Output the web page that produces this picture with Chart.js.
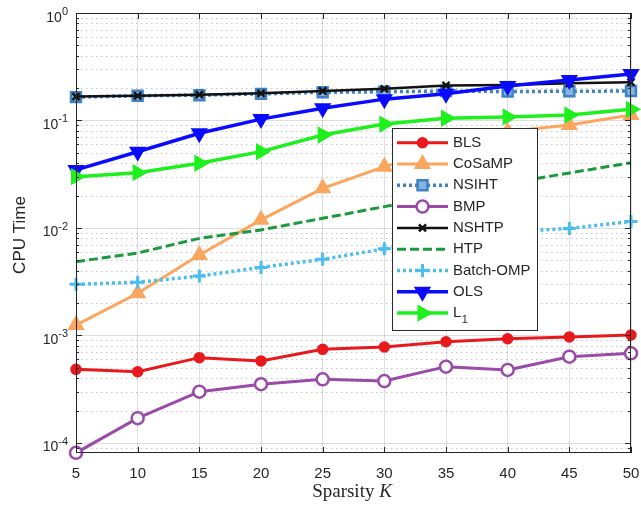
<!DOCTYPE html>
<html>
<head>
<meta charset="utf-8">
<script src="https://cdn.jsdelivr.net/npm/chart.js@4/dist/chart.umd.min.js"></script>
<style>
  html, body { margin: 0; padding: 0; background: #fff; }
  canvas { display: block; }
</style>
</head>
<body>
<canvas id="chart" width="641" height="506"></canvas>
<script>
// Sparsity levels and measured CPU times (seconds) per algorithm
const sparsity = [5, 10, 15, 20, 25, 30, 35, 40, 45, 50];
const bls      = [4.84e-4, 4.6e-4, 6.22e-4, 5.8e-4, 7.43e-4, 7.82e-4, 8.75e-4, 9.33e-4, 9.7e-4, 1.01e-3];
const cosamp   = [1.25e-3, 2.47e-3, 5.6e-3, 1.19e-2, 2.34e-2, 3.72e-2, 5.5e-2, 7.9e-2, 9.1e-2, 0.1125];
const nsiht    = [0.165, 0.170, 0.172, 0.177, 0.183, 0.185, 0.188, 0.186, 0.187, 0.188];
const bmp      = [8.1e-5, 1.7e-4, 3.0e-4, 3.52e-4, 3.91e-4, 3.77e-4, 5.13e-4, 4.78e-4, 6.35e-4, 6.83e-4];
const nshtp    = [0.167, 0.170, 0.174, 0.179, 0.188, 0.197, 0.212, 0.214, 0.222, 0.227];
const htp      = [4.86e-3, 5.85e-3, 8.0e-3, 9.6e-3, 1.23e-2, 1.58e-2, 2.05e-2, 2.6e-2, 3.25e-2, 4.05e-2];
const batchOmp = [2.99e-3, 3.13e-3, 3.57e-3, 4.3e-3, 5.11e-3, 6.4e-3, 7.8e-3, 9.2e-3, 9.9e-3, 1.15e-2];
const ols      = [0.0347, 0.0512, 0.076, 0.103, 0.130, 0.158, 0.177, 0.209, 0.238, 0.271];
const l1       = [0.030, 0.0327, 0.040, 0.0513, 0.0733, 0.0927, 0.105, 0.108, 0.1125, 0.127];

const seriesNames = ['BLS', 'CoSaMP', 'NSIHT', 'BMP', 'NSHTP', 'HTP', 'Batch-OMP', 'OLS', 'L1'];
const seriesValues = [bls, cosamp, nsiht, bmp, nshtp, htp, batchOmp, ols, l1];

// Axis ticks
const xTicks = [5, 10, 15, 20, 25, 30, 35, 40, 45, 50];
const yDecades = [-4, -3, -2, -1, 0];
const yMin = 8.07e-5, yMax = 1;

// Line / marker styles per series
const styles = [
  { color: '#e8191c', width: 3,   dash: [],     point: 'circle',   radius: 5,   pw: 1.5, fill: '#e8191c', rot: 0 },
  { color: '#fba65f', width: 3,   dash: [],     point: 'triangle', radius: 8.5, pw: 1.5, fill: '#fba65f', rot: 0 },
  { color: '#3f82c4', width: 3.5, dash: [3, 3], point: 'rect',     radius: 7,   pw: 2.5, fill: '#86b2de', rot: 0 },
  { color: '#9a4aa8', width: 3,   dash: [],     point: 'circle',   radius: 6,   pw: 2.5, fill: '#ffffff', rot: 0 },
  { color: '#111111', width: 2.5, dash: [],     point: 'crossRot', radius: 5,   pw: 2.5, fill: '#111111', rot: 0 },
  { color: '#1a9a3c', width: 3,   dash: [9, 4], point: false,      radius: 0,   pw: 0,   fill: '#1a9a3c', rot: 0 },
  { color: '#4bbdee', width: 3.5, dash: [3, 3], point: 'cross',    radius: 6.5, pw: 3,   fill: '#4bbdee', rot: 0 },
  { color: '#0a0aff', width: 3.5, dash: [],     point: 'triangle', radius: 8.5, pw: 1.5, fill: '#0a0aff', rot: 180 },
  { color: '#1ef01e', width: 3.5, dash: [],     point: 'triangle', radius: 8.5, pw: 1.5, fill: '#1ef01e', rot: 90 }
];

const TEXT = '#262626';
const SANS = '"Liberation Sans", Arial, sans-serif';
const SERIF = '"Liberation Serif", "DejaVu Serif", serif';

const datasets = seriesNames.map((name, i) => {
  const s = styles[i];
  return {
    label: name,
    data: sparsity.map((k, j) => ({ x: k, y: seriesValues[i][j] })),
    borderColor: s.color,
    borderWidth: s.width,
    borderDash: s.dash,
    backgroundColor: s.fill,
    pointStyle: s.point,
    pointRadius: s.radius,
    pointBorderWidth: s.pw,
    pointBorderColor: s.color,
    pointBackgroundColor: s.fill,
    pointRotation: s.rot,
    tension: 0,
    fill: false,
    clip: false,
    order: seriesNames.length - i
  };
});

// Minor dotted grid, box, tick marks, tick labels, titles and legend
const decorations = {
  id: 'decorations',
  beforeDatasetsDraw(chart) {
    const { ctx, chartArea: a, scales: { y } } = chart;
    ctx.save();
    ctx.lineWidth = 1;
    for (let e = -5; e <= 0; e++) {
      for (let m = 1; m <= 9; m++) {
        const v = m * Math.pow(10, e);
        if (v < yMin || v > yMax) continue;
        const py = Math.round(y.getPixelForValue(v)) + 0.5;
        ctx.beginPath();
        if (m === 1) {
          ctx.setLineDash([]);
          ctx.strokeStyle = 'rgba(0,0,0,0.13)';
        } else {
          ctx.setLineDash([1.5, 3.5]);
          ctx.strokeStyle = 'rgba(0,0,0,0.22)';
        }
        ctx.moveTo(a.left, py);
        ctx.lineTo(a.right, py);
        ctx.stroke();
      }
    }
    ctx.restore();
  },
  afterDatasetsDraw(chart) {
    const { ctx, chartArea: a, scales: { x, y } } = chart;
    ctx.save();
    ctx.setLineDash([]);

    // axes box
    ctx.strokeStyle = TEXT;
    ctx.lineWidth = 1;
    ctx.strokeRect(a.left + 0.5, a.top + 0.5, a.right - a.left - 1, a.bottom - a.top - 1);

    // x tick marks (inside, bottom and top)
    ctx.beginPath();
    xTicks.forEach(k => {
      const px = Math.round(x.getPixelForValue(k)) + 0.5;
      ctx.moveTo(px, a.bottom); ctx.lineTo(px, a.bottom - 6);
      ctx.moveTo(px, a.top); ctx.lineTo(px, a.top + 6);
    });
    // y tick marks (major and minor, inside, left and right)
    for (let e = -5; e <= 0; e++) {
      for (let m = 1; m <= 9; m++) {
        const v = m * Math.pow(10, e);
        if (v < yMin || v > yMax) continue;
        const py = Math.round(y.getPixelForValue(v)) + 0.5;
        const len = m === 1 ? 6 : 3;
        ctx.moveTo(a.left, py); ctx.lineTo(a.left + len, py);
        ctx.moveTo(a.right, py); ctx.lineTo(a.right - len, py);
      }
    }
    ctx.stroke();

    // x tick labels
    ctx.fillStyle = TEXT;
    ctx.font = '15px ' + SANS;
    ctx.textAlign = 'center';
    ctx.textBaseline = 'middle';
    xTicks.forEach(k => ctx.fillText(String(k), x.getPixelForValue(k), 474));

    // y tick labels 10^e
    ctx.textBaseline = 'alphabetic';
    ctx.textAlign = 'left';
    yDecades.forEach(e => {
      const py = y.getPixelForValue(Math.pow(10, e));
      const base = '10', exp = String(e);
      ctx.font = '14px ' + SANS;
      const wb = ctx.measureText(base).width;
      ctx.font = '11px ' + SANS;
      const we = ctx.measureText(exp).width;
      const x0 = 68 - wb - we;
      ctx.font = '14px ' + SANS;
      ctx.fillText(base, x0, py + 8.5);
      ctx.font = '11px ' + SANS;
      ctx.fillText(exp, x0 + wb, py + 2);
    });

    // y axis title
    ctx.save();
    ctx.translate(25, (a.top + a.bottom) / 2 + 2);
    ctx.rotate(-Math.PI / 2);
    ctx.font = '17px ' + SANS;
    ctx.textAlign = 'center';
    ctx.textBaseline = 'alphabetic';
    ctx.fillText('CPU Time', 0, 0);
    ctx.restore();

    // x axis title: "Sparsity K" with italic K
    ctx.font = '19px ' + SERIF;
    const w1 = ctx.measureText('Sparsity ').width;
    ctx.font = 'italic 19px ' + SERIF;
    const w2 = ctx.measureText('K').width;
    const tx = 352 - (w1 + w2) / 2;
    ctx.textAlign = 'left';
    ctx.font = '19px ' + SERIF;
    ctx.fillText('Sparsity ', tx, 497);
    ctx.font = 'italic 19px ' + SERIF;
    ctx.fillText('K', tx + w1, 497);

    // legend
    const lx = 392, ly = 128, lw = 146, lh = 203, row = 21.3;
    ctx.fillStyle = '#ffffff';
    ctx.fillRect(lx, ly, lw, lh);
    ctx.strokeStyle = '#2b2b2b';
    ctx.lineWidth = 1;
    ctx.strokeRect(lx + 0.5, ly + 0.5, lw - 1, lh - 1);
    seriesNames.forEach((name, i) => {
      const s = styles[i];
      const cy = ly + 14.7 + i * row;
      ctx.beginPath();
      ctx.setLineDash(s.dash);
      ctx.strokeStyle = s.color;
      ctx.lineWidth = s.width;
      ctx.moveTo(397, cy);
      ctx.lineTo(448, cy);
      ctx.stroke();
      ctx.setLineDash([]);
      if (s.point) {
        ctx.fillStyle = s.fill;
        ctx.strokeStyle = s.color;
        ctx.lineWidth = s.pw;
        Chart.helpers.drawPoint(ctx, { pointStyle: s.point, rotation: s.rot, radius: s.radius, borderWidth: s.pw }, 422.5, cy);
      }
      ctx.fillStyle = TEXT;
      ctx.textAlign = 'left';
      ctx.textBaseline = 'middle';
      ctx.font = '15px ' + SANS;
      if (name === 'L1') {
        ctx.fillText('L', 453, cy);
        const wl = ctx.measureText('L').width;
        ctx.font = '11px ' + SANS;
        ctx.fillText('1', 453 + wl + 0.5, cy + 7);
      } else {
        ctx.fillText(name, 453, cy);
      }
    });
    ctx.restore();
  }
};

new Chart(document.getElementById('chart'), {
  type: 'line',
  data: { datasets },
  options: {
    responsive: false,
    devicePixelRatio: 1,
    animation: false,
    layout: { padding: { left: 0, right: 9, top: 13, bottom: 0 } },
    plugins: { legend: { display: false }, tooltip: { enabled: false } },
    scales: {
      x: {
        type: 'linear',
        min: 5, max: 50,
        ticks: { display: false, stepSize: 5 },
        grid: { color: 'rgba(0,0,0,0.13)', drawTicks: false, lineWidth: 1 },
        border: { display: false },
        afterFit(scale) { scale.height = 53; }
      },
      y: {
        type: 'logarithmic',
        min: yMin, max: yMax,
        ticks: { display: false },
        grid: { display: false },
        border: { display: false },
        afterFit(scale) { scale.width = 76; }
      }
    }
  },
  plugins: [decorations]
});
</script>
</body>
</html>
